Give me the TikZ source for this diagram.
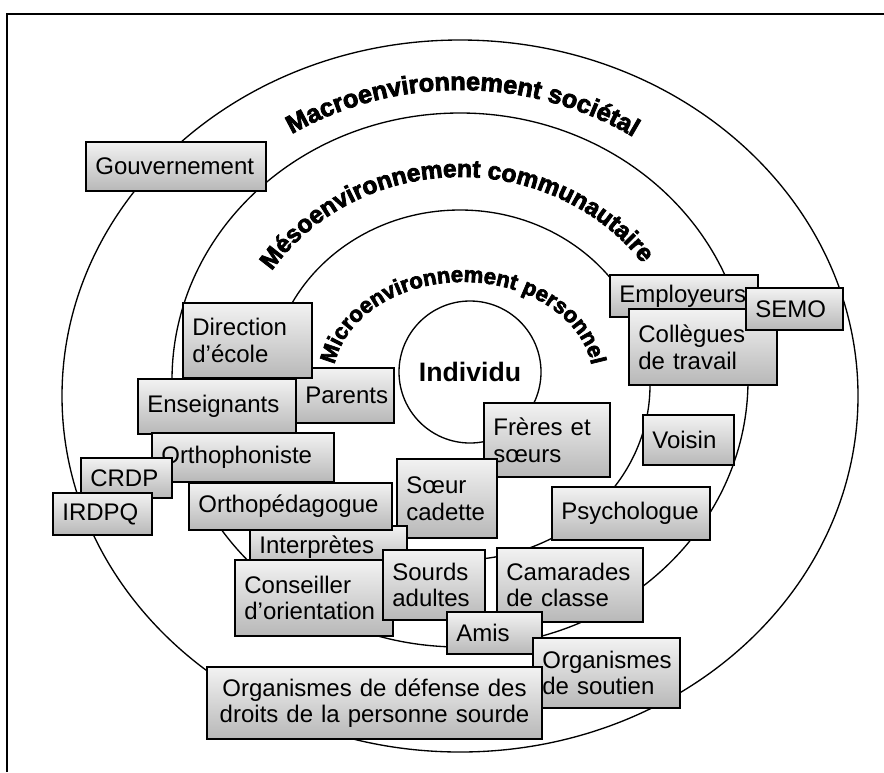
\documentclass[tikz,border=0pt]{standalone}
\usepackage{fontspec}
\setmainfont{Liberation Sans}
\newfontfamily\archfont[FakeBold=3]{Liberation Sans Bold}
\usetikzlibrary{decorations.text}

\newcommand{\boxfont}{\fontsize{18}{20}\selectfont}
\newcommand{\archmacro}{\archfont\fontsize{19}{21}\selectfont}
\newcommand{\archmeso}{\archfont\fontsize{18.4}{21}\selectfont}
\newcommand{\archmicro}{\archfont\fontsize{16.6}{19}\selectfont}
% shaded box: [options]{name}{x1}{y1}{x2}{y2}{text}
\newcommand{\agent}[7][]{%
  \pgfmathsetmacro\agw{(#5-#3)*0.75}%
  \pgfmathsetmacro\agh{(#6-#4)*0.75}%
  \pgfmathsetmacro\agt{\agw-14}%
  \node[agent,minimum width=\agw pt,minimum height=\agh pt,text width=\agt pt,#1]
    (#2) at ({(#3+#5)/2},{(#4+#6)/2}) {#7};}

\begin{document}
\begin{tikzpicture}[%
  x=0.75pt,y=-0.75pt,
  frame/.style={line width=1.4pt},
  ring/.style={line width=1pt},
  agent/.style={draw,line width=1pt,top color=black!5,bottom color=black!28,
    inner xsep=7pt,inner ysep=1pt,align=left,font=\boxfont},
  archtext/.style={decorate,decoration={text along path,text align=left,text={#1}}}]
    \useasboundingbox (0,0) rectangle (884,772);
    \draw[frame] (7,772) -- (7,14) -- (884,14);
    % Rings
    \draw[ring] (460,396) ellipse [x radius=398,y radius=356];
    \draw[ring] (460,380) ellipse [x radius=288,y radius=267];
    \draw[ring] (460,385) ellipse [x radius=190,y radius=175];
    % Arched titles
    \path[archtext={|\archmacro|Macroenvironnement sociétal}]
      ({460+322*cos(-121.5)},{390+300*sin(-121.5)})
      arc[start angle=-121.5,end angle=-20,x radius=322,y radius=300];
    \path[archtext={|\archmeso|Mésoenvironnement communautaire}]
      ({460+225*cos(-146.8)},{385+208*sin(-146.8)})
      arc[start angle=-146.8,end angle=0,x radius=225,y radius=208];
    \path[archtext={|\archmicro|Microenvironnement personnel}]
      ({463+130*cos(-171)},{380+98*sin(-171)})
      arc[start angle=-171,end angle=20,x radius=130,y radius=98];
    % Centre
    \node[draw,ring,circle,minimum size=106.5pt,inner sep=0pt,
      font=\fontsize{20}{24}\selectfont\bfseries] (indiv) at (470,372) {Individu};
    % Left side
    \agent{gouv}{86}{142}{266}{191}{Gouvernement}
    \agent{parents}{296}{368}{394}{423}{Parents}
    \agent{direction}{183}{303}{312}{378}{Direction\\d’école}
    \agent{enseign}{138}{379}{296}{434}{Enseignants}
    \agent{orthophon}{152}{433}{334}{482}{Orthophoniste}
    \agent{crdp}{81}{458}{172}{498}{CRDP}
    \agent{irdpq}{53}{493}{152}{535}{IRDPQ}
    % Bottom
    \agent{freres}{484}{403}{610}{477}{Frères et\\sœurs}
    \agent{soeur}{397}{459}{497}{538}{Sœur\\cadette}
    \agent{interpr}{250}{526}{407}{568}{Interprètes}
    \agent{orthoped}{189}{483}{392}{530}{Orthopédagogue}
    \agent{conseil}{235}{560}{393}{636}{Conseiller\\d’orientation}
    \agent{sourds}{383}{550}{485}{620}{Sourds\\adultes}
    \agent{camar}{497}{548}{643}{622}{Camarades\\de classe}
    \agent{amis}{447}{612}{542}{654}{Amis}
    \agent{soutien}{533}{638}{680}{708}{Organismes\\de soutien}
    \agent[align=center]{defense}{207}{667}{542}{739}{Organismes de défense des\\droits de la personne sourde}
    % Right side
    \agent{employ}{610}{275}{758}{317}{Employeurs}
    \agent{collegues}{629}{309}{777}{385}{Collègues\\de travail}
    \agent{semo}{746}{288}{843}{330}{SEMO}
    \agent{voisin}{643}{415}{734}{465}{Voisin}
    \agent{psycho}{552}{487}{710}{540}{Psychologue}
\end{tikzpicture}
\end{document}
